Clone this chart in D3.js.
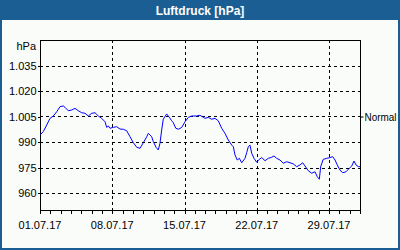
<!DOCTYPE html>
<html><head><meta charset="utf-8">
<script src="https://cdn.jsdelivr.net/npm/d3@7"></script>
<style>
html,body{margin:0;padding:0;background:#fafcfa;}
svg{display:block;}
text{font-family:"Liberation Sans",Arial,sans-serif;}
</style></head>
<body>
<svg id="c" width="400" height="250"></svg>
<script>
const title = "Luftdruck [hPa]";
const unitLabel = "hPa";
const normalLabel = "Normal";
const normalValue = 1005;
const yTicks = [960, 975, 990, 1005, 1020, 1035];
const yDomain = [950, 1050];
const startDate = new Date(2017, 6, 1);
const endDate = new Date(2017, 7, 1);
// days since 01.07.17
const dayOffsets = [0.00,0.10,0.32,0.65,0.97,1.29,1.62,1.94,2.26,2.42,2.74,3.07,3.39,3.71,4.04,4.36,4.68,5.01,5.33,5.65,5.98,6.30,6.46,6.62,6.78,7.10,7.43,7.75,8.07,8.40,8.72,9.04,9.37,9.69,10.01,10.34,10.49,10.82,10.98,11.24,11.46,11.62,11.79,11.94,12.27,12.53,12.76,12.91,13.15,13.40,13.73,14.05,14.37,14.70,15.18,15.50,15.82,15.98,16.30,16.63,16.95,17.27,17.60,17.92,18.24,18.57,18.73,18.89,19.11,19.31,19.54,19.86,20.02,20.18,20.34,20.51,20.73,20.99,21.24,21.48,21.80,22.12,22.45,22.67,22.93,23.25,23.57,23.90,24.22,24.54,24.87,25.19,25.45,25.67,25.99,26.32,26.64,26.86,27.06,27.19,27.44,27.77,28.09,28.35,28.58,28.80,29.06,29.32,29.64,29.96,30.20,30.42,30.61,30.84,31.00];
const pressure = [994.5,994.7,996.1,1000.0,1003.9,1005.3,1007.8,1010.8,1011.2,1010.4,1008.4,1008.8,1009.8,1008.4,1007.2,1006.9,1005.3,1006.9,1007.2,1005.3,1003.9,1001.9,998.6,999.4,998.1,998.6,999.0,997.6,997.5,996.6,993.1,989.6,986.9,986.3,989.6,993.1,995.1,993.1,990.2,986.9,985.3,989.2,997.1,1003.4,1006.5,1004.5,1002.5,1001.4,998.1,997.5,998.6,1001.9,1004.5,1005.3,1005.3,1005.7,1004.5,1003.9,1004.5,1003.4,1003.9,1002.5,998.1,995.1,991.2,988.2,987.2,982.4,979.4,980.4,977.8,980.4,983.7,987.2,988.2,983.4,980.4,978.1,979.8,980.8,979.0,980.4,981.0,981.8,980.4,979.4,977.5,978.4,977.8,977.1,975.5,976.5,977.8,975.9,973.1,971.6,972.5,969.6,968.1,975.5,979.8,980.4,980.8,981.4,979.4,976.5,973.5,971.9,972.5,974.5,975.9,978.8,976.5,975.5,975.5];

const svg = d3.select("#c");
const W = 400, H = 250;
const m = {left: 40, right: 360, top: 40, bottom: 210};

// frame & title bar
svg.append("rect").attr("x",0).attr("y",0).attr("width",W).attr("height",H).attr("fill","#fafcfa");
svg.append("rect").attr("x",1).attr("y",1).attr("width",W-2).attr("height",H-2)
  .attr("fill","none").attr("stroke","#1b5e93").attr("stroke-width",2);
svg.append("rect").attr("x",0).attr("y",0).attr("width",W).attr("height",20).attr("fill","#1b5e93");
svg.append("text").attr("x",W/2).attr("y",14.5).attr("text-anchor","middle")
  .attr("fill","#fff").attr("font-weight","bold").attr("font-size","12px").text(title);

const x = d3.scaleTime().domain([startDate, endDate]).range([m.left, m.right]);
const y = d3.scaleLinear().domain(yDomain).range([m.bottom, m.top]);

const deLocale = d3.formatLocale({decimal: ",", thousands: ".", grouping: [3], currency: ["", "€"]});
const fmtY = deLocale.format(",d");
const fmtX = d3.timeFormat("%d.%m.%y");

const weeks = d3.range(0, 31, 7).map(k => d3.timeDay.offset(startDate, k));
const days = d3.timeDay.range(startDate, d3.timeDay.offset(endDate, 1));

const g = svg.append("g");
// horizontal grid
g.selectAll("line.hg").data(yTicks).enter().append("line")
  .attr("x1", m.left).attr("x2", m.right)
  .attr("y1", d => Math.round(y(d)) + 0.5).attr("y2", d => Math.round(y(d)) + 0.5)
  .attr("stroke","#000").attr("stroke-dasharray","3,3").attr("shape-rendering","crispEdges");
// vertical grid
g.selectAll("line.vg").data(weeks.slice(1)).enter().append("line")
  .attr("x1", d => Math.round(x(d)) + 0.5).attr("x2", d => Math.round(x(d)) + 0.5)
  .attr("y1", m.top).attr("y2", m.bottom)
  .attr("stroke","#000").attr("stroke-dasharray","3,3").attr("shape-rendering","crispEdges");

// x axis
const xAxis = d3.axisBottom(x).tickValues(days).tickSize(3).tickFormat("");
const xa = svg.append("g").attr("transform",`translate(0,${m.bottom+0.5})`).call(xAxis);
xa.select(".domain").remove();
xa.selectAll("line").attr("shape-rendering","crispEdges");
svg.append("g").selectAll("text").data(weeks).enter().append("text")
  .attr("x", d => x(d)).attr("y", 229).attr("text-anchor","middle")
  .attr("font-size","11px").attr("fill","#000").text(d => fmtX(d));

// y axis
const yAxis = d3.axisLeft(y).tickValues(yTicks).tickSize(3).tickPadding(2).tickFormat(fmtY);
const ya = svg.append("g").attr("transform",`translate(${m.left+0.5},0)`).call(yAxis);
ya.select(".domain").remove();
ya.selectAll("text").attr("font-size","11px").attr("font-family",null).attr("x",-4);
ya.selectAll("line").attr("shape-rendering","crispEdges");
svg.append("text").attr("x",36).attr("y",y(1050)+10).attr("text-anchor","end")
  .attr("font-size","11px").text(unitLabel);

// right axis "Normal"
const ra = d3.axisRight(y).tickValues([normalValue]).tickSize(3).tickPadding(1).tickFormat(() => normalLabel);
const rag = svg.append("g").attr("transform",`translate(${m.right+0.5},0)`).call(ra);
rag.select(".domain").remove();
rag.selectAll("text").attr("font-size","11px").attr("font-family",null)
  .attr("x", 4).attr("textLength", 32).attr("lengthAdjust", "spacingAndGlyphs");

// plot frame
svg.append("rect").attr("x", m.left+0.5).attr("y", m.top+0.5)
  .attr("width", m.right-m.left).attr("height", m.bottom-m.top)
  .attr("fill","none").attr("stroke","#000").attr("shape-rendering","crispEdges");

// data line
const data = dayOffsets.map((d,i) => ({t: new Date(+startDate + d*864e5), v: pressure[i]}));
const line = d3.line().x(d => x(d.t)).y(d => y(d.v));
svg.append("path").datum(data).attr("d", line)
  .attr("fill","none").attr("stroke","#0000ff").attr("stroke-width",1);
</script>
</body></html>
